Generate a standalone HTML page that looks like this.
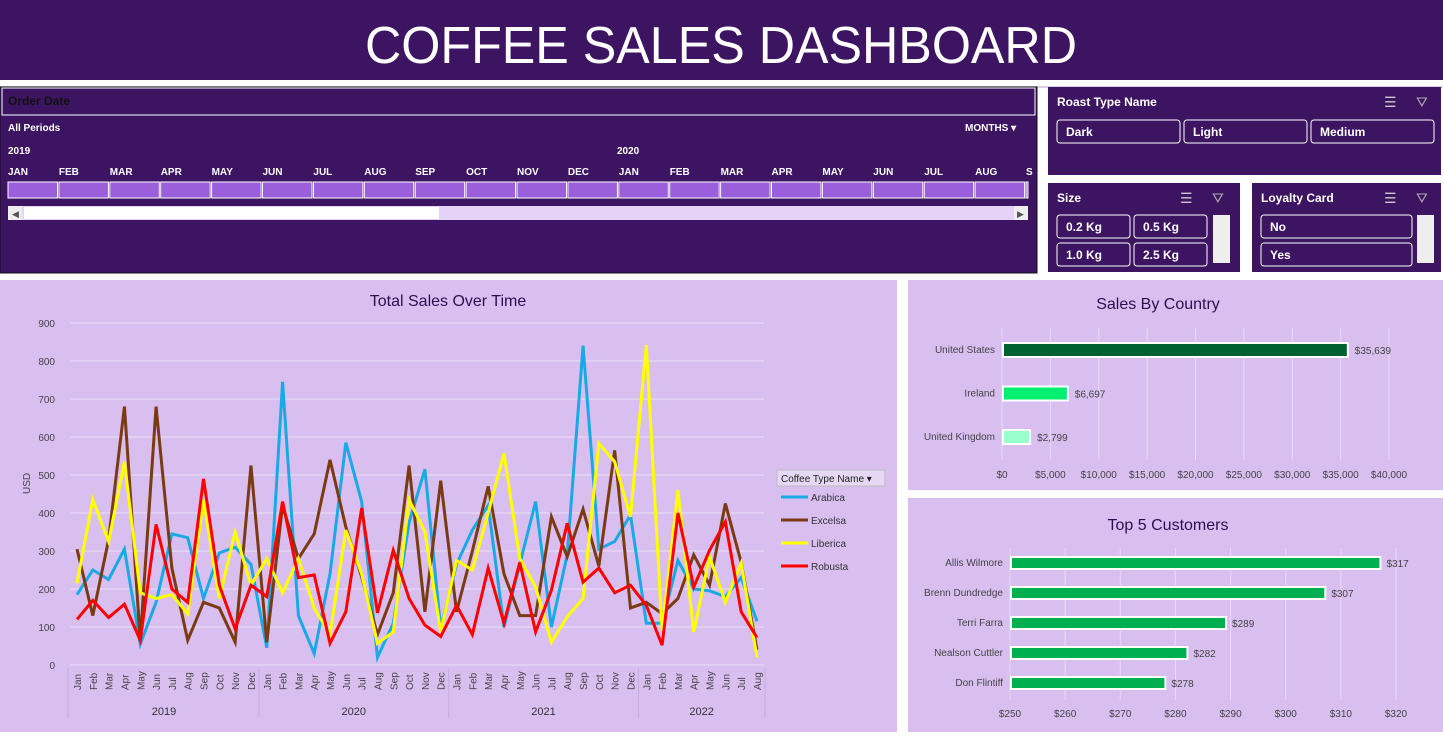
<!DOCTYPE html>
<html><head><meta charset="utf-8"><style>
body{margin:0;background:#fff;width:1443px;height:732px;overflow:hidden;font-family:"Liberation Sans",sans-serif}
svg text{font-family:"Liberation Sans",sans-serif}
</style></head><body>
<svg id="s" width="1443" height="732" xmlns="http://www.w3.org/2000/svg">
<rect x="0" y="0" width="1443" height="80" fill="#3c1462"/>
<text x="721" y="63" text-anchor="middle" font-size="52" textLength="712" lengthAdjust="spacingAndGlyphs" fill="#fff">COFFEE SALES DASHBOARD</text>
<rect x="0" y="86" width="1443" height="2" fill="#d9cfe6"/>
<!-- timeline -->
<g>
<rect x="0" y="87" width="1037" height="186" fill="#3c1462" stroke="#111" stroke-width="1"/>
<rect x="2" y="88" width="1033" height="27" fill="#3c1462" stroke="#fff" stroke-width="1"/>
<text x="8" y="105" font-size="12" font-weight="bold" fill="#111">Order Date</text>
<text x="8" y="131" font-size="10" font-weight="bold" fill="#fff">All Periods</text>
<text x="965" y="131" font-size="10" font-weight="bold" fill="#fff">MONTHS ▾</text>
<text x="8" y="154" font-size="10" font-weight="bold" fill="#fff">2019</text>
<text x="617" y="154" font-size="10" font-weight="bold" fill="#fff">2020</text>
<g id="tl"></g>
<rect x="8" y="206" width="1020" height="14" fill="#e4d2f7"/>
<rect x="24" y="207" width="415" height="12" fill="#fff"/>
<rect x="8" y="206" width="14" height="14" fill="#eee"/><text x="12" y="217" font-size="9" fill="#555">◀</text>
<rect x="1014" y="206" width="14" height="14" fill="#eee"/><text x="1017" y="217" font-size="9" fill="#555">▶</text>
</g>
<!-- slicers -->
<g>
<rect x="1048" y="87" width="393" height="88" fill="#3c1462"/>
<text x="1057" y="106" font-size="12" font-weight="bold" fill="#fff">Roast Type Name</text>
<text x="1384" y="107" font-size="14" fill="#ccc">☰</text><text x="1416" y="107" font-size="14" fill="#aaa">⛛</text>
<rect x="1057" y="120" width="123" height="23" rx="3" fill="none" stroke="#fff"/><text x="1066" y="136" font-size="12" font-weight="bold" fill="#fff">Dark</text>
<rect x="1184" y="120" width="123" height="23" rx="3" fill="none" stroke="#fff"/><text x="1193" y="136" font-size="12" font-weight="bold" fill="#fff">Light</text>
<rect x="1311" y="120" width="123" height="23" rx="3" fill="none" stroke="#fff"/><text x="1320" y="136" font-size="12" font-weight="bold" fill="#fff">Medium</text>
</g>
<g>
<rect x="1048" y="183" width="192" height="89" fill="#3c1462"/>
<text x="1057" y="202" font-size="12" font-weight="bold" fill="#fff">Size</text>
<text x="1180" y="203" font-size="14" fill="#ccc">☰</text><text x="1212" y="203" font-size="14" fill="#aaa">⛛</text>
<rect x="1057" y="215" width="73" height="23" rx="3" fill="none" stroke="#fff"/><text x="1066" y="231" font-size="12" font-weight="bold" fill="#fff">0.2 Kg</text>
<rect x="1134" y="215" width="73" height="23" rx="3" fill="none" stroke="#fff"/><text x="1143" y="231" font-size="12" font-weight="bold" fill="#fff">0.5 Kg</text>
<rect x="1057" y="243" width="73" height="23" rx="3" fill="none" stroke="#fff"/><text x="1066" y="259" font-size="12" font-weight="bold" fill="#fff">1.0 Kg</text>
<rect x="1134" y="243" width="73" height="23" rx="3" fill="none" stroke="#fff"/><text x="1143" y="259" font-size="12" font-weight="bold" fill="#fff">2.5 Kg</text>
<rect x="1213" y="215" width="17" height="48" fill="#eee"/>
</g>
<g>
<rect x="1252" y="183" width="189" height="89" fill="#3c1462"/>
<text x="1261" y="202" font-size="12" font-weight="bold" fill="#fff">Loyalty Card</text>
<text x="1384" y="203" font-size="14" fill="#ccc">☰</text><text x="1416" y="203" font-size="14" fill="#aaa">⛛</text>
<rect x="1261" y="215" width="151" height="23" rx="3" fill="none" stroke="#fff"/><text x="1270" y="231" font-size="12" font-weight="bold" fill="#fff">No</text>
<rect x="1261" y="243" width="151" height="23" rx="3" fill="none" stroke="#fff"/><text x="1270" y="259" font-size="12" font-weight="bold" fill="#fff">Yes</text>
<rect x="1417" y="215" width="17" height="48" fill="#eee"/>
</g>
<!-- panels -->
<rect x="0" y="280" width="897" height="452" fill="#d9bff0"/>
<rect x="908" y="280" width="535" height="210" fill="#d9bff0"/>
<rect x="908" y="498" width="535" height="234" fill="#d9bff0"/>
<text x="448" y="306" text-anchor="middle" font-size="16" fill="#2a1050">Total Sales Over Time</text>
<text x="1158" y="309" text-anchor="middle" font-size="16" fill="#2a1050">Sales By Country</text>
<text x="1168" y="530" text-anchor="middle" font-size="16" fill="#2a1050">Top 5 Customers</text>
<text x="30" y="494" font-size="10" fill="#444" transform="rotate(-90 30 494)">USD</text>
<g id="line"></g>
<g id="legend">
<rect x="777" y="470" width="108" height="16" fill="#e6d8f5" stroke="#bbb"/>
<text x="781" y="482" font-size="10" fill="#222">Coffee Type Name ▾</text>
</g>
<g id="country"></g>
<g id="cust"></g>
</svg>
<script>
const NS='http://www.w3.org/2000/svg';
function mk(p,t,a){const e=document.createElementNS(NS,t);for(const k in a)e.setAttribute(k,a[k]);p.appendChild(e);return e;}
// timeline
const tlMonths=['JAN','FEB','MAR','APR','MAY','JUN','JUL','AUG','SEP','OCT','NOV','DEC','JAN','FEB','MAR','APR','MAY','JUN','JUL','AUG','S'];
const tl=document.getElementById('tl');
tlMonths.forEach((m,i)=>{const x=8+i*50.9;
const t=mk(tl,'text',{x:x,y:175,'font-size':10,'font-weight':'bold',fill:'#fff'});t.textContent=m;
const r=mk(tl,'rect',{x:x,y:182,width:Math.min(49.5,1028-x),height:16,fill:'#9c5fdc',stroke:'#fff','stroke-width':1});

});

// line chart data
const years=['2019','2020','2021','2022'];
const monthNames=['Jan','Feb','Mar','Apr','May','Jun','Jul','Aug','Sep','Oct','Nov','Dec'];
const yTicks=[0,100,200,300,400,500,600,700,800,900];
const seriesNames=['Arabica','Excelsa','Liberica','Robusta'];
const seriesColors=['#19aae6','#7b3a12','#ffff00','#ff0000'];
const arabica=[185,250,225,305,55,165,345,335,175,295,310,265,45,745,130,30,240,585,430,20,110,375,515,95,265,355,420,100,265,430,100,290,840,305,325,395,110,110,275,200,195,180,230,115];
const excelsa=[305,130,330,680,65,680,255,65,165,150,60,525,60,420,280,345,540,363,232,80,190,525,140,485,140,300,470,240,130,130,390,285,410,260,565,150,165,135,175,290,210,425,270,40];
const liberica=[215,435,325,535,190,175,185,135,435,175,350,210,280,190,280,150,80,355,240,57,87,435,350,87,275,250,400,557,280,205,60,127,175,583,535,390,842,90,460,87,285,165,268,20];
const robusta=[120,170,125,160,65,370,200,165,490,210,95,210,180,430,230,237,57,140,413,137,302,175,105,75,157,80,255,110,270,87,197,373,218,255,190,210,157,52,400,205,302,377,140,72];
const series=[arabica,excelsa,liberica,robusta];
const L=70,R=764,T=323,B=665,n=arabica.length;
const xS=i=>77+i*(757-77)/(n-1);
const yS=v=>B-(v/900)*(B-T);
const lg=document.getElementById('line');
yTicks.forEach(v=>{const g=mk(lg,'line',{x1:L,x2:R,y1:yS(v),y2:yS(v),stroke:'#ecdff8','stroke-width':1});


const t=mk(lg,'text',{x:55,y:yS(v)+4,'text-anchor':'end','font-size':10,fill:'#444'});t.textContent=v;

});
for(let i=0;i<n;i++){const m=monthNames[i%12];const x=xS(i);
const t=mk(lg,'text',{x:x+4,y:690,'font-size':10,fill:'#444',transform:`rotate(-90 ${x+4} 690)`});t.textContent=m;

}
mk(lg,'line',{x1:68,x2:68,y1:668,y2:718,stroke:'#c4aee0'});
years.forEach((y,k)=>{const i0=k*12,i1=Math.min(n-1,k*12+11);
const t=mk(lg,'text',{x:(xS(i0)+xS(i1))/2,y:715,'text-anchor':'middle','font-size':11,fill:'#333'});t.textContent=y;


mk(lg,'line',{x1:xS(i1)+8,x2:xS(i1)+8,y1:668,y2:718,stroke:'#c4aee0'});});
series.forEach((s,k)=>{const p=mk(lg,'polyline',{points:s.map((v,i)=>xS(i)+','+yS(v)).join(' '),fill:'none',stroke:seriesColors[k],'stroke-width':3,'stroke-linejoin':'miter'});

});
const leg=document.getElementById('legend');
seriesNames.forEach((nm,k)=>{const y=497+k*23;
const l=mk(leg,'line',{x1:781,x2:808,y1:y,y2:y,stroke:seriesColors[k],'stroke-width':3});


const t=mk(leg,'text',{x:811,y:y+4,'font-size':10,fill:'#333'});t.textContent=nm;});

// country chart
const countries=['United States','Ireland','United Kingdom'];
const countrySales=[35639,6697,2799];
const countryLabels=['$35,639','$6,697','$2,799'];
const countryTicks=[0,5000,10000,15000,20000,25000,30000,35000,40000];
const countryColors=['#006130','#00ee70','#99ffcc'];
const cg=document.getElementById('country');
const cx=v=>1002+v*(1389-1002)/40000;
countryTicks.forEach(v=>{mk(cg,'line',{x1:cx(v),x2:cx(v),y1:328,y2:460,stroke:'#e6dcf3'});
const t=mk(cg,'text',{x:cx(v),y:478,'text-anchor':'middle','font-size':10,fill:'#444'});t.textContent='$'+v.toLocaleString('en-US');

});
countries.forEach((c,i)=>{const y=350+i*43.5;
const r=mk(cg,'rect',{x:cx(0)+1,y:y-7,width:cx(countrySales[i])-cx(0),height:14,fill:countryColors[i],stroke:'#fff','stroke-width':2});


const t=mk(cg,'text',{x:995,y:y+3,'text-anchor':'end','font-size':10,fill:'#444'});t.textContent=c;
const v=mk(cg,'text',{x:cx(countrySales[i])+8,y:y+4,'font-size':10,fill:'#444'});v.textContent=countryLabels[i];});

// customers chart
const customers=['Allis Wilmore','Brenn Dundredge','Terri Farra','Nealson Cuttler','Don Flintiff'];
const custSales=[317,307,289,282,278];
const custTicks=[250,260,270,280,290,300,310,320];
const ug=document.getElementById('cust');
const ux=v=>1010+(v-250)*(1396-1010)/70;
custTicks.forEach(v=>{mk(ug,'line',{x1:ux(v),x2:ux(v),y1:548,y2:700,stroke:'#e6dcf3'});
const t=mk(ug,'text',{x:ux(v),y:717,'text-anchor':'middle','font-size':10,fill:'#444'});t.textContent='$'+v;

});
customers.forEach((c,i)=>{const y=563+i*30;
const r=mk(ug,'rect',{x:ux(250)+1,y:y-6,width:ux(custSales[i])-ux(250),height:12,fill:'#00b050',stroke:'#fff','stroke-width':2});


const t=mk(ug,'text',{x:1003,y:y+3,'text-anchor':'end','font-size':10,fill:'#444'});t.textContent=c;
const v=mk(ug,'text',{x:ux(custSales[i])+7,y:y+4,'font-size':10,fill:'#444'});v.textContent='$'+custSales[i];});
</script>
</body></html>
